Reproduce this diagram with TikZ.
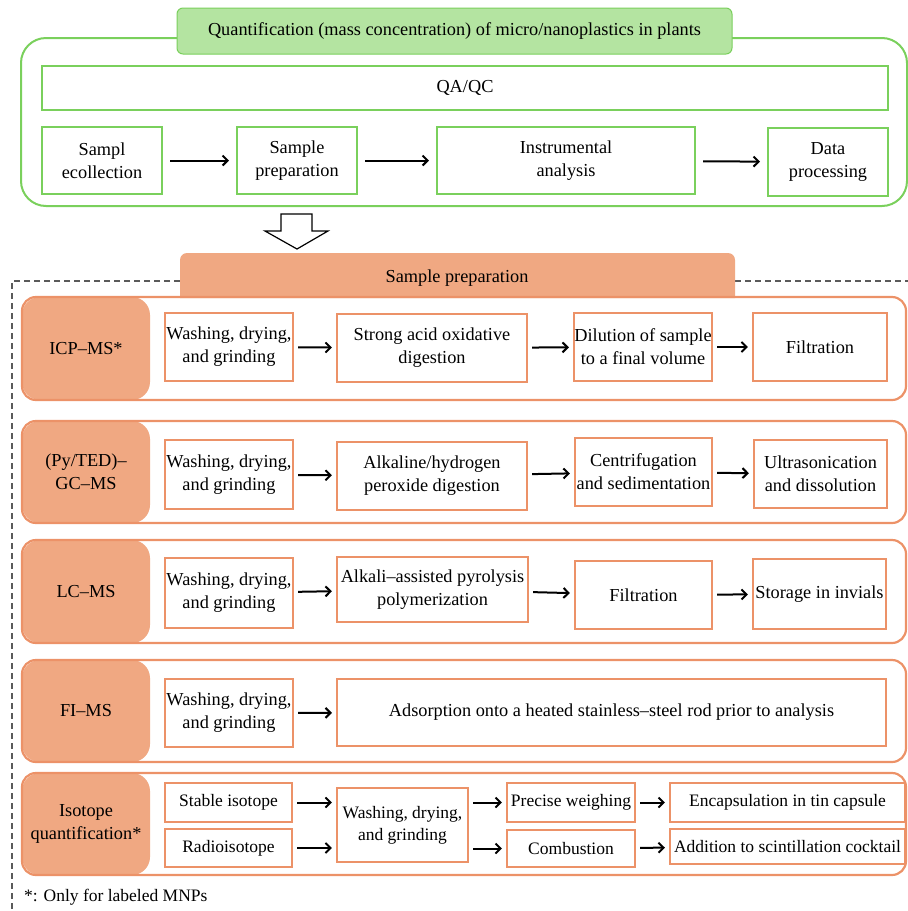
\documentclass[tikz,border=0pt]{standalone}
\usepackage{fontspec}
\setmainfont{Liberation Serif}
\usetikzlibrary{arrows.meta}
\definecolor{gstroke}{RGB}{122,208,92}
\definecolor{gfill}{RGB}{180,228,161}
\definecolor{ostroke}{RGB}{236,146,104}
\definecolor{ofill}{RGB}{240,168,130}
\definecolor{dashgray}{RGB}{90,90,90}
\newcommand{\mkbox}[7]{\node[#7, minimum width={(#4-#2)*1pt}, minimum height={(#5-#3)*1pt}] (#1) at ({(#2+#4)/2},{(#3+#5)/2}) {#6};}
\newcommand{\mkrow}[4]{%
  \fill[ofill, rounded corners=18] (22,#1) rectangle (150,#2);
  \draw[ostroke, line width=2.2pt, rounded corners=14] (22,#1) rectangle (906,#2);
  \node[txt] (#4) at (86,{(#1+#2)/2}) {#3};}
\begin{document}
\begin{tikzpicture}[x=1pt,y=-1pt,
  txt/.style={font=\fontsize{18.3}{23}\selectfont, align=center, inner sep=0pt},
  small/.style={font=\fontsize{17.5}{22}\selectfont},
  gbox/.style={txt, draw=gstroke, line width=2pt},
  obox/.style={txt, draw=ostroke, line width=2.2pt},
  arr/.style={line width=2pt, -{Straight Barb[length=5pt,width=10pt]}, shorten >=4pt, shorten <=4pt},
  garr/.style={arr, shorten >=7pt, shorten <=7pt},
  dsh/.style={dashgray, line width=1.3pt, dash pattern=on 6pt off 4pt}]
\useasboundingbox (0,0) rectangle (908,911);
% ---------- top green section ----------
\draw[gstroke, line width=2pt, rounded corners=25] (21,38) rectangle (907,206);
\mkbox{title}{177}{8}{732}{54}{Quantification (mass concentration) of micro/nanoplastics in plants}{txt, fill=gfill, draw=gstroke, line width=1pt, rounded corners=6}
\mkbox{qa}{42}{66}{888}{110}{QA/QC}{gbox}
\mkbox{sc}{42}{127}{162}{194}{Sampl\\ecollection}{gbox}
\mkbox{spz}{237}{127}{357}{194}{Sample\\preparation}{gbox}
\mkbox{ia}{437}{127}{695}{194}{Instrumental\\analysis}{gbox}
\mkbox{dp}{768}{128}{888}{196}{Data\\processing}{gbox}
\draw[garr] (sc) -- (spz);
\draw[garr] (spz) -- (ia);
\draw[garr] (ia) -- (dp);
% ---------- hollow block arrow ----------
\draw[line width=1.2pt, fill=white] (281,214) -- (312,214) -- (312,231) -- (328,231) -- (297,249) -- (265,231) -- (281,231) -- cycle;
% ---------- dashed frame ----------
\draw[dsh] (180,281) -- (12,281) -- (12,911);
\draw[dsh] (735,281) -- (908,281);
% ---------- sample preparation tab ----------
\fill[ofill] (180,298) {[rounded corners=7] -- (180,253) -- (735,253)} -- (735,298) -- cycle;
\node[txt] (sptab) at (457,278) {Sample preparation};
% ---------- row 1 ----------
\mkrow{297}{400}{ICP–MS*}{l1}
\mkbox{wa}{165}{313}{293}{381}{Washing, drying,\\and grinding}{obox}
\mkbox{aa}{337}{314}{527}{382}{Strong acid oxidative\\digestion}{obox}
\mkbox{da}{574}{313}{712}{381}{Dilution of sample\\to a final volume}{obox}
\mkbox{fa}{753}{313}{887}{381}{Filtration}{obox}
\draw[arr] (wa) -- (aa);
\draw[arr] (aa) -- (da);
\draw[arr] (da) -- (fa);
% ---------- row 2 ----------
\mkrow{421}{523}{(Py/TED)–\\GC–MS}{l2}
\mkbox{wb}{165}{440}{293}{509}{Washing, drying,\\and grinding}{obox}
\mkbox{ab}{337}{442}{527}{510}{Alkaline/hydrogen\\peroxide digestion}{obox}
\mkbox{cb}{575}{438}{712}{506}{Centrifugation\\and sedimentation}{obox}
\mkbox{ub}{754}{440}{887}{508}{Ultrasonication\\and dissolution}{obox}
\draw[arr] (wb) -- (ab);
\draw[arr] (ab) -- (cb);
\draw[arr] (cb) -- (ub);
% ---------- row 3 ----------
\mkrow{540}{643}{LC–MS}{l3}
\mkbox{wc}{165}{558}{293}{628}{Washing, drying,\\and grinding}{obox}
\mkbox{ac}{337}{557}{528}{622}{Alkali–assisted pyrolysis\\polymerization}{obox}
\mkbox{fc}{575}{561}{712}{629}{Filtration}{obox}
\mkbox{sc3}{753}{559}{886}{629}{Storage in invials}{obox}
\draw[arr] (wc) -- (ac);
\draw[arr] (ac) -- (fc);
\draw[arr] (fc) -- (sc3);
% ---------- row 4 ----------
\mkrow{660}{762}{FI–MS}{l4}
\mkbox{wd}{165}{679}{293}{747}{Washing, drying,\\and grinding}{obox}
\mkbox{ad}{337}{679}{886}{746}{Adsorption onto a heated stainless–steel rod prior to analysis}{obox}
\draw[arr] (wd) -- (ad);
% ---------- row 5 ----------
\mkrow{773}{875}{Isotope\\quantification*}{l5}
\mkbox{st}{165}{783}{292}{822}{Stable isotope}{obox, small}
\mkbox{ra}{165}{829}{292}{867}{Radioisotope}{obox, small}
\mkbox{we}{337}{788}{468}{862}{Washing, drying,\\and grinding}{obox, small}
\mkbox{pw}{507}{783}{635}{822}{Precise weighing}{obox, small}
\mkbox{cm}{507}{830}{635}{867}{Combustion}{obox, small}
\mkbox{en}{670}{783}{905}{822}{Encapsulation in tin capsule}{obox, small}
\mkbox{at}{670}{829}{905}{864}{Addition to scintillation cocktail}{obox, small}
\draw[arr] (st.east) -- (st.east -| we.west);
\draw[arr] (ra.east) -- (ra.east -| we.west);
\draw[arr] (we.east |- pw.west) -- (pw.west);
\draw[arr] (we.east |- cm.west) -- (cm.west);
\draw[arr] (pw) -- (en);
\draw[arr] (cm) -- (at);
% ---------- footnote ----------
\node[txt, small, anchor=west] (fn) at (24,897) {*: Only for labeled MNPs};
\end{tikzpicture}
\end{document}
